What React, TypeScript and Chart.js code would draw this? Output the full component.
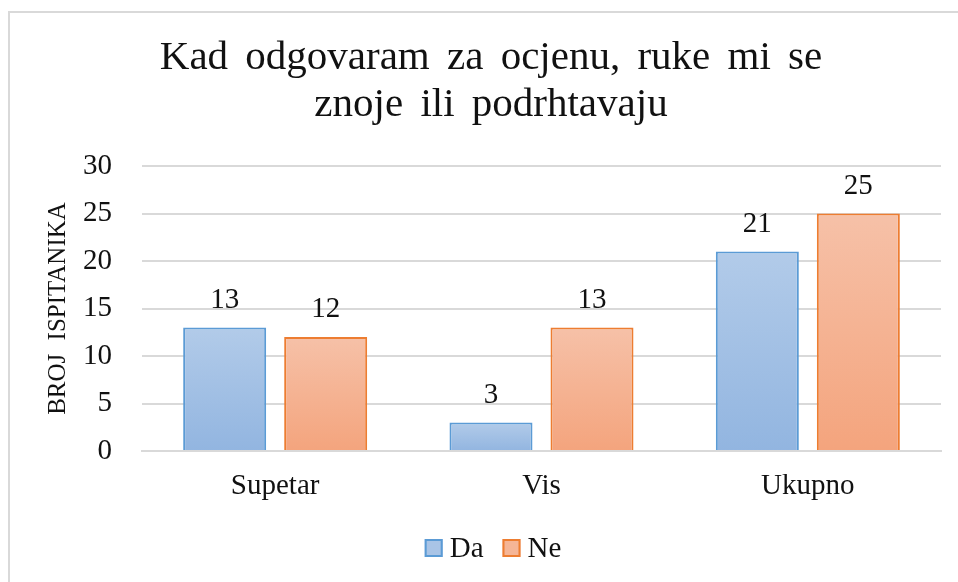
import React, { useEffect, useRef } from "react";
import { Chart, registerables } from "chart.js";

Chart.register(...registerables);

const categories = ["Supetar", "Vis", "Ukupno"];
const daValues = [13, 3, 21];
const neValues = [12, 13, 25];
const seriesNames = ["Da", "Ne"];
const titleLines = ["Kad odgovaram za ocjenu, ruke mi se", "znoje ili podrhtavaju"];
const yAxisTitle = "BROJ ISPITANIKA";

const FONT = '"Liberation Serif", "Times New Roman", serif';
const TEXT = "#111";

const palette = [
  { top: "#b2cbe9", bottom: "#92b5e0", border: "#5b9bd5", legend: "#a9c4e6" },
  { top: "#f6c1a8", bottom: "#f4a47d", border: "#ed7d31", legend: "#f5b596" },
];

function gradientFor(idx: number) {
  return (c: any) => {
    const chart = c.chart;
    const p = palette[idx];
    const y = chart.scales && chart.scales.y;
    if (!chart.chartArea || !y || typeof c.raw !== "number") return p.legend;
    const top = y.getPixelForValue(c.raw);
    const bottom = y.getPixelForValue(0);
    if (!isFinite(top) || !isFinite(bottom) || top === bottom) return p.legend;
    const g = chart.ctx.createLinearGradient(0, top, 0, bottom);
    g.addColorStop(0, p.top);
    g.addColorStop(1, p.bottom);
    return g;
  };
}

const wordSpacing = {
  id: "wordSpacing",
  beforeDraw(chart: any) {
    (chart.ctx as any).wordSpacing = "7px";
  },
};

const valueLabels = {
  id: "valueLabels",
  afterDatasetsDraw(chart: any) {
    const ctx = chart.ctx;
    ctx.save();
    ctx.font = `29px ${FONT}`;
    ctx.fillStyle = TEXT;
    ctx.textAlign = "center";
    ctx.textBaseline = "alphabetic";
    chart.data.datasets.forEach((ds: any, di: number) => {
      const meta = chart.getDatasetMeta(di);
      meta.data.forEach((bar: any, i: number) => {
        ctx.fillText(String(ds.data[i]), bar.x, bar.y - 20);
      });
    });
    ctx.restore();
  },
};

const customLegend = {
  id: "customLegend",
  afterDraw(chart: any) {
    const ctx = chart.ctx;
    ctx.save();
    ctx.font = `29px ${FONT}`;
    ctx.textBaseline = "middle";
    ctx.textAlign = "left";
    const box = 18;
    const gapText = 7;
    const gapItem = 19;
    const items = chart.data.datasets.map((ds: any, i: number) => ({
      text: ds.label,
      w: box + gapText + ctx.measureText(ds.label).width,
      p: palette[i],
    }));
    const total = items.reduce((s: number, it: any) => s + it.w, 0) + gapItem * (items.length - 1);
    const cx = chart.width / 2 + 2;
    const cy = chart.height - 34;
    let x = cx - total / 2;
    items.forEach((it: any) => {
      ctx.fillStyle = it.p.legend;
      ctx.fillRect(x, cy - box / 2, box, box);
      ctx.strokeStyle = it.p.border;
      ctx.lineWidth = 2;
      ctx.strokeRect(x + 1, cy - box / 2 + 1, box - 2, box - 2);
      ctx.fillStyle = TEXT;
      ctx.fillText(it.text, x + box + gapText, cy + 1);
      x += it.w + gapItem;
    });
    ctx.restore();
  },
};

export default function App() {
  const ref = useRef<HTMLCanvasElement | null>(null);
  useEffect(() => {
    if (!ref.current) return;
    const chart = new Chart(ref.current, {
      type: "bar",
      data: {
        labels: categories,
        datasets: [
          {
            label: seriesNames[0],
            data: daValues,
            backgroundColor: gradientFor(0),
            borderColor: palette[0].border,
            borderWidth: 2,
            categoryPercentage: 0.7585,
            barPercentage: 0.822,
          },
          {
            label: seriesNames[1],
            data: neValues,
            backgroundColor: gradientFor(1),
            borderColor: palette[1].border,
            borderWidth: 2,
            categoryPercentage: 0.7585,
            barPercentage: 0.822,
          },
        ],
      },
      options: {
        animation: false,
        responsive: false,
        maintainAspectRatio: false,
        layout: { padding: { left: 31, right: 31, top: 0, bottom: 71 } },
        plugins: {
          title: {
            display: true,
            text: titleLines,
            color: TEXT,
            font: { family: FONT, size: 41, weight: "normal", lineHeight: 1.15 },
            padding: { top: 22, bottom: 36.7 },
          },
          legend: { display: false },
          tooltip: { enabled: false },
        },
        scales: {
          x: {
            grid: { display: false, drawTicks: false },
            border: { display: true, color: "#d9d9d9", width: 2 },
            ticks: { color: TEXT, font: { family: FONT, size: 29 }, padding: 18 },
            afterFit: (scale: any) => {
              scale.height = 60;
            },
          },
          y: {
            min: 0,
            max: 30,
            ticks: { stepSize: 5, color: TEXT, font: { family: FONT, size: 29 }, padding: 30 },
            grid: { color: "#d9d9d9", lineWidth: 2, drawTicks: false },
            border: { display: false },
            title: {
              display: true,
              text: yAxisTitle,
              color: TEXT,
              font: { family: FONT, size: 25 },
              padding: { top: 2, bottom: 0 },
            },
            afterFit: (scale: any) => {
              scale.width = 101;
            },
          },
        },
      },
      plugins: [wordSpacing, valueLabels, customLegend],
    });
    return () => chart.destroy();
  }, []);

  return (
    <div
      style={{
        position: "absolute",
        left: 8,
        top: 11,
        width: 950,
        height: 571,
        boxSizing: "border-box",
        borderLeft: "2px solid #d9d9d9",
        borderTop: "2px solid #d9d9d9",
        overflow: "hidden",
        background: "#fff",
      }}
    >
      <canvas ref={ref} width={962} height={569} style={{ display: "block", width: 962, height: 569 }} />
    </div>
  );
}
